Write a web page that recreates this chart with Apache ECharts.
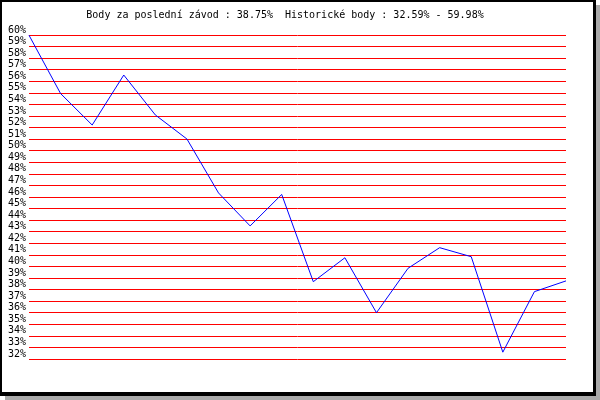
<!DOCTYPE html>
<html>
<head>
<meta charset="utf-8">
<script src="https://cdn.jsdelivr.net/npm/echarts@6/dist/echarts.min.js"></script>
<style>html,body{margin:0;padding:0;background:#fff}#c{width:600px;height:400px}</style>
</head>
<body>
<div id="c"></div>
<script>
var races = ['1','2','3','4','5','6','7','8','9','10','11','12','13','14','15','16','17','18'];
var points = [59.98, 54.94, 52.22, 56.54, 53.09, 51.01, 46.35, 43.50, 46.22, 38.68, 40.75, 36.00, 39.84, 41.62, 40.84, 32.59, 37.82, 38.75];
var titleText = 'Body za poslední závod : 38.75%  Historické body : 32.59% - 59.98%';
var yMin = 32, yMax = 60, yStep = 1;

var chart = echarts.init(document.getElementById('c'), null, {renderer: 'canvas'});
chart.setOption({
  animation: false,
  backgroundColor: '#fff',
  graphic: [
    {type: 'rect', z: -10, shape: {x: 5, y: 5, width: 595, height: 395}, style: {fill: '#aaaaaa'}},
    {type: 'rect', z: -9, shape: {x: 0, y: 0, width: 596, height: 396}, style: {fill: '#000000'}},
    {type: 'rect', z: -8, shape: {x: 2, y: 2, width: 591, height: 390}, style: {fill: '#ffffff'}}
  ],
  title: {
    text: titleText,
    left: 280, top: 5,
    textAlign: 'center',
    textStyle: {fontFamily: 'DejaVu Sans Mono', fontSize: 10, fontWeight: 'normal', color: '#000'}
  },
  grid: {left: 29, right: 34, top: 35, bottom: 41, containLabel: false},
  xAxis: {
    type: 'category', data: races, boundaryGap: false, show: false
  },
  yAxis: {
    type: 'value', min: yMin, max: yMax, interval: yStep,
    axisLine: {show: false}, axisTick: {show: false},
    axisLabel: {
      formatter: '{value}%', margin: 3, color: '#000',
      fontFamily: 'DejaVu Sans Mono', fontSize: 10,
      verticalAlign: 'bottom'
    },
    splitLine: {show: true, lineStyle: {color: '#ff0000', width: 1}}
  },
  series: [{
    type: 'line', data: points, symbol: 'none',
    lineStyle: {color: '#0000ff', width: 1}
  }]
});
</script>
</body>
</html>
